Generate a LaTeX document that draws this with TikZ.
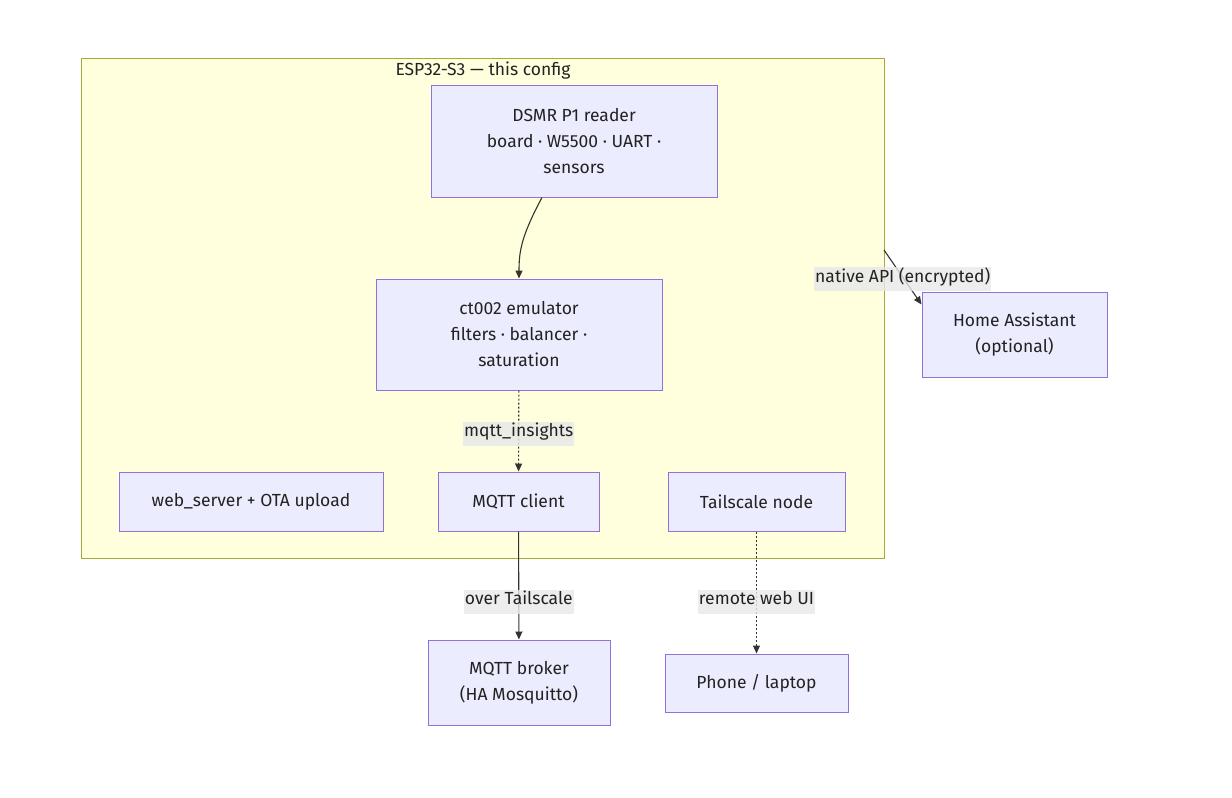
\documentclass[tikz,border=0pt]{standalone}
\usepackage{fontspec}
\setmainfont{Fira Sans}
\usetikzlibrary{arrows.meta,positioning}
\definecolor{boxfill}{HTML}{ECECFF}
\definecolor{boxline}{HTML}{9370DB}
\definecolor{clusfill}{HTML}{FFFFDE}
\definecolor{clusline}{HTML}{AAAA33}
\definecolor{edgeclr}{HTML}{333333}
\definecolor{txtclr}{HTML}{222222}
\definecolor{lblfill}{HTML}{E8E8E8}
\tikzset{
  blk/.style={draw=boxline, fill=boxfill, line width=1pt, align=center,
    inner sep=0pt, font=\fontsize{17.5}{26}\selectfont, text=txtclr},
  clus/.style={draw=clusline, fill=clusfill, line width=1pt, inner sep=0pt},
  flow/.style={-{Triangle[length=8pt,width=7pt]}, line width=1.1pt, draw=edgeclr},
  dots/.style={flow, dash pattern=on 2pt off 2pt},
  lbl/.style={fill=lblfill, fill opacity=0.8, text opacity=1, inner xsep=1pt,
    inner ysep=0pt, text height=15pt, text depth=9pt, yshift=-2pt,
    font=\fontsize{17.5}{20}\selectfont, text=txtclr},
}
\begin{document}
\begin{tikzpicture}[x=1pt,y=-1pt]
  \useasboundingbox (0,0) rectangle (1232,798);
  % --- ESP32 cluster ---
  \node[clus, minimum width=803pt, minimum height=500pt] (esp) at (482.5,308) {};
  \node[font=\fontsize{17.5}{20}\selectfont, text=txtclr] (esptitle) at (483,71) {ESP32-S3 — this config};
  \coordinate (apiout) at (884,250);
  % --- nodes inside ---
  \node[blk, minimum width=286pt, minimum height=112pt] (dsmr) at (574,141)
    {DSMR P1 reader\\board · W5500 · UART ·\\sensors};
  \node[blk, minimum width=286pt, minimum height=111pt] (ctemu) at (519,334.5)
    {ct002 emulator\\filters · balancer ·\\saturation};
  \node[blk, minimum width=264pt, minimum height=59pt] (websrv) at (251,501.5) {web\_server + OTA upload};
  \node[blk, minimum width=161pt, minimum height=59pt] (mqttcl) at (518.5,501.5) {MQTT client};
  \node[blk, minimum width=177pt, minimum height=59pt] (tsnode) at (756.5,501.5) {Tailscale node};
  % --- nodes outside ---
  \node[blk, minimum width=182pt, minimum height=85pt] (broker) at (519,682.5)
    {MQTT broker\\(HA Mosquitto)};
  \node[blk, minimum width=183pt, minimum height=58pt] (phone) at (756.5,683) {Phone / laptop};
  \node[blk, minimum width=185pt, minimum height=85pt] (hass) at (1014.5,334.5)
    {Home Assistant\\(optional)};
  % --- edges ---
  \draw[flow] ([xshift=-32pt]dsmr.south) .. controls (522,235) and (519,250) .. (ctemu.north);
  \draw[dots] (ctemu) -- (mqttcl) node[lbl, pos=0.51] {mqtt\_insights};
  \draw[flow] (mqttcl) -- (broker) node[lbl, pos=0.63] {over Tailscale};
  \draw[dots] (tsnode) -- (phone) node[lbl, pos=0.56] {remote web UI};
  \draw[flow] (apiout) -- ([yshift=-13pt]hass.north west) node[lbl, pos=0.5] {native API (encrypted)};
\end{tikzpicture}
\end{document}
